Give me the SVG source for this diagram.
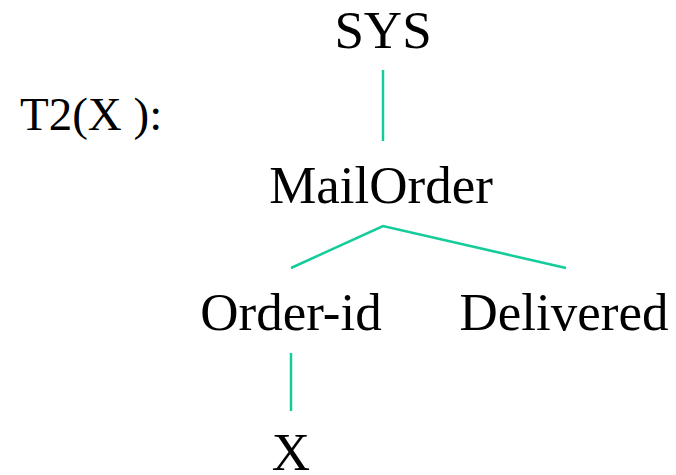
<svg xmlns="http://www.w3.org/2000/svg" width="676" height="475" viewBox="0 0 676 475">
  <style>
    .lbl { font-family: "Liberation Serif", "Times New Roman", serif; font-size: 53px; fill: #000; text-anchor: middle; }
    .edge { stroke: #14CC99; stroke-width: 2.5; fill: none; }
  </style>
  <rect width="676" height="475" fill="#fff"/>
  <text x="20" y="130" style="font-family: 'Liberation Serif', 'Times New Roman', serif; font-size: 47px;">T2(X ):</text>
  <g id="connectors">
    <line class="edge" x1="383" y1="70" x2="383" y2="141"/>
    <polyline class="edge" points="291,268 383,226 566,268"/>
    <line class="edge" x1="291" y1="353" x2="291" y2="411"/>
  </g>
  <g id="sys"><text class="lbl" x="383" y="48">SYS</text></g>
  <g id="mailorder"><text class="lbl" x="381" y="203">MailOrder</text></g>
  <g id="order-id"><text class="lbl" x="291" y="330">Order-id</text></g>
  <g id="delivered"><text class="lbl" x="564" y="330">Delivered</text></g>
  <g id="x"><text class="lbl" x="291" y="470">X</text></g>
</svg>
